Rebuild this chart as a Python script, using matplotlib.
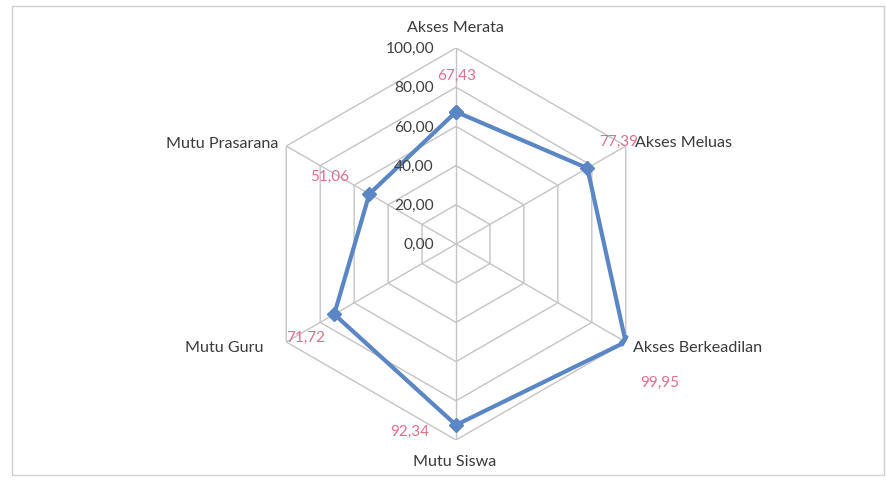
import numpy as np
import matplotlib
matplotlib.use("Agg")
import matplotlib.pyplot as plt
from matplotlib.patches import Rectangle

categories = ["Akses Merata", "Akses Meluas", "Akses Berkeadilan",
              "Mutu Siswa", "Mutu Guru", "Mutu Prasarana"]
values = [67.43, 77.39, 99.95, 92.34, 71.72, 51.06]
value_labels = ["67,43", "77,39", "99,95", "92,34", "71,72", "51,06"]
ticks = [0, 20, 40, 60, 80, 100]
tick_labels = ["0,00", "20,00", "40,00", "60,00", "80,00", "100,00"]

# label offsets in pixels (dx, dy) and alignment
cat_offsets = [(-1, 21, "center"), (9, 4, "left"), (7, -5, "left"),
               (-1, -21, "center"), (-23, -5, "right"), (-8, 3, "right")]
val_offsets = [(1, 37), (31, 27), (34, -40), (-46, -6), (-29, -23), (-40, 18)]

plt.rcParams['font.family'] = ['Lato', 'DejaVu Sans']

W, H = 887, 481
fig = plt.figure(figsize=(W / 100, H / 100), dpi=100)
fig.patches.append(Rectangle((12 / W, 5 / H), 872 / W, 469 / H, transform=fig.transFigure,
                             fill=False, edgecolor="#cfcfcf", linewidth=1.0))

cx, cy, R = 456, 245, 196
ax = fig.add_axes([(cx - R) / W, (H - cy - R) / H, 2 * R / W, 2 * R / H], projection="polar")
ax.set_theta_zero_location("N")
ax.set_theta_direction(-1)
ax.set_ylim(0, 100)
ax.axis("off")

n = len(categories)
angles = np.linspace(0, 2 * np.pi, n, endpoint=False)
closed = np.append(angles, angles[0])

grid_col = "#c4c4c4"
for t in ticks[1:]:
    ax.plot(closed, [t] * (n + 1), color=grid_col, linewidth=1.0, zorder=1)
for a in angles:
    ax.plot([a, a], [0, 100], color=grid_col, linewidth=1.0, zorder=1)

vals_closed = values + [values[0]]
ax.plot(closed, vals_closed, color="#5b86c6", linewidth=3.0, zorder=3,
        marker="D", markersize=7.5, markerfacecolor="#5b86c6", markeredgecolor="#5b86c6")

for t, lab in zip(ticks, tick_labels):
    ax.annotate(lab, xy=(0, t), xytext=(-22, 0), textcoords="offset pixels",
                ha="right", va="center", fontsize=11.2, color="#404040", zorder=4)

for a, lab, (dx, dy, ha) in zip(angles, categories, cat_offsets):
    ax.annotate(lab, xy=(a, 100), xytext=(dx, dy), textcoords="offset pixels",
                ha=ha, va="center", fontsize=11.6, color="#3a3a3a", zorder=4)

for a, v, lab, (dx, dy) in zip(angles, values, value_labels, val_offsets):
    ax.annotate(lab, xy=(a, v), xytext=(dx, dy), textcoords="offset pixels",
                ha="center", va="center", fontsize=11, color="#e0708a", zorder=4)

fig.savefig("out.png", dpi=100)
